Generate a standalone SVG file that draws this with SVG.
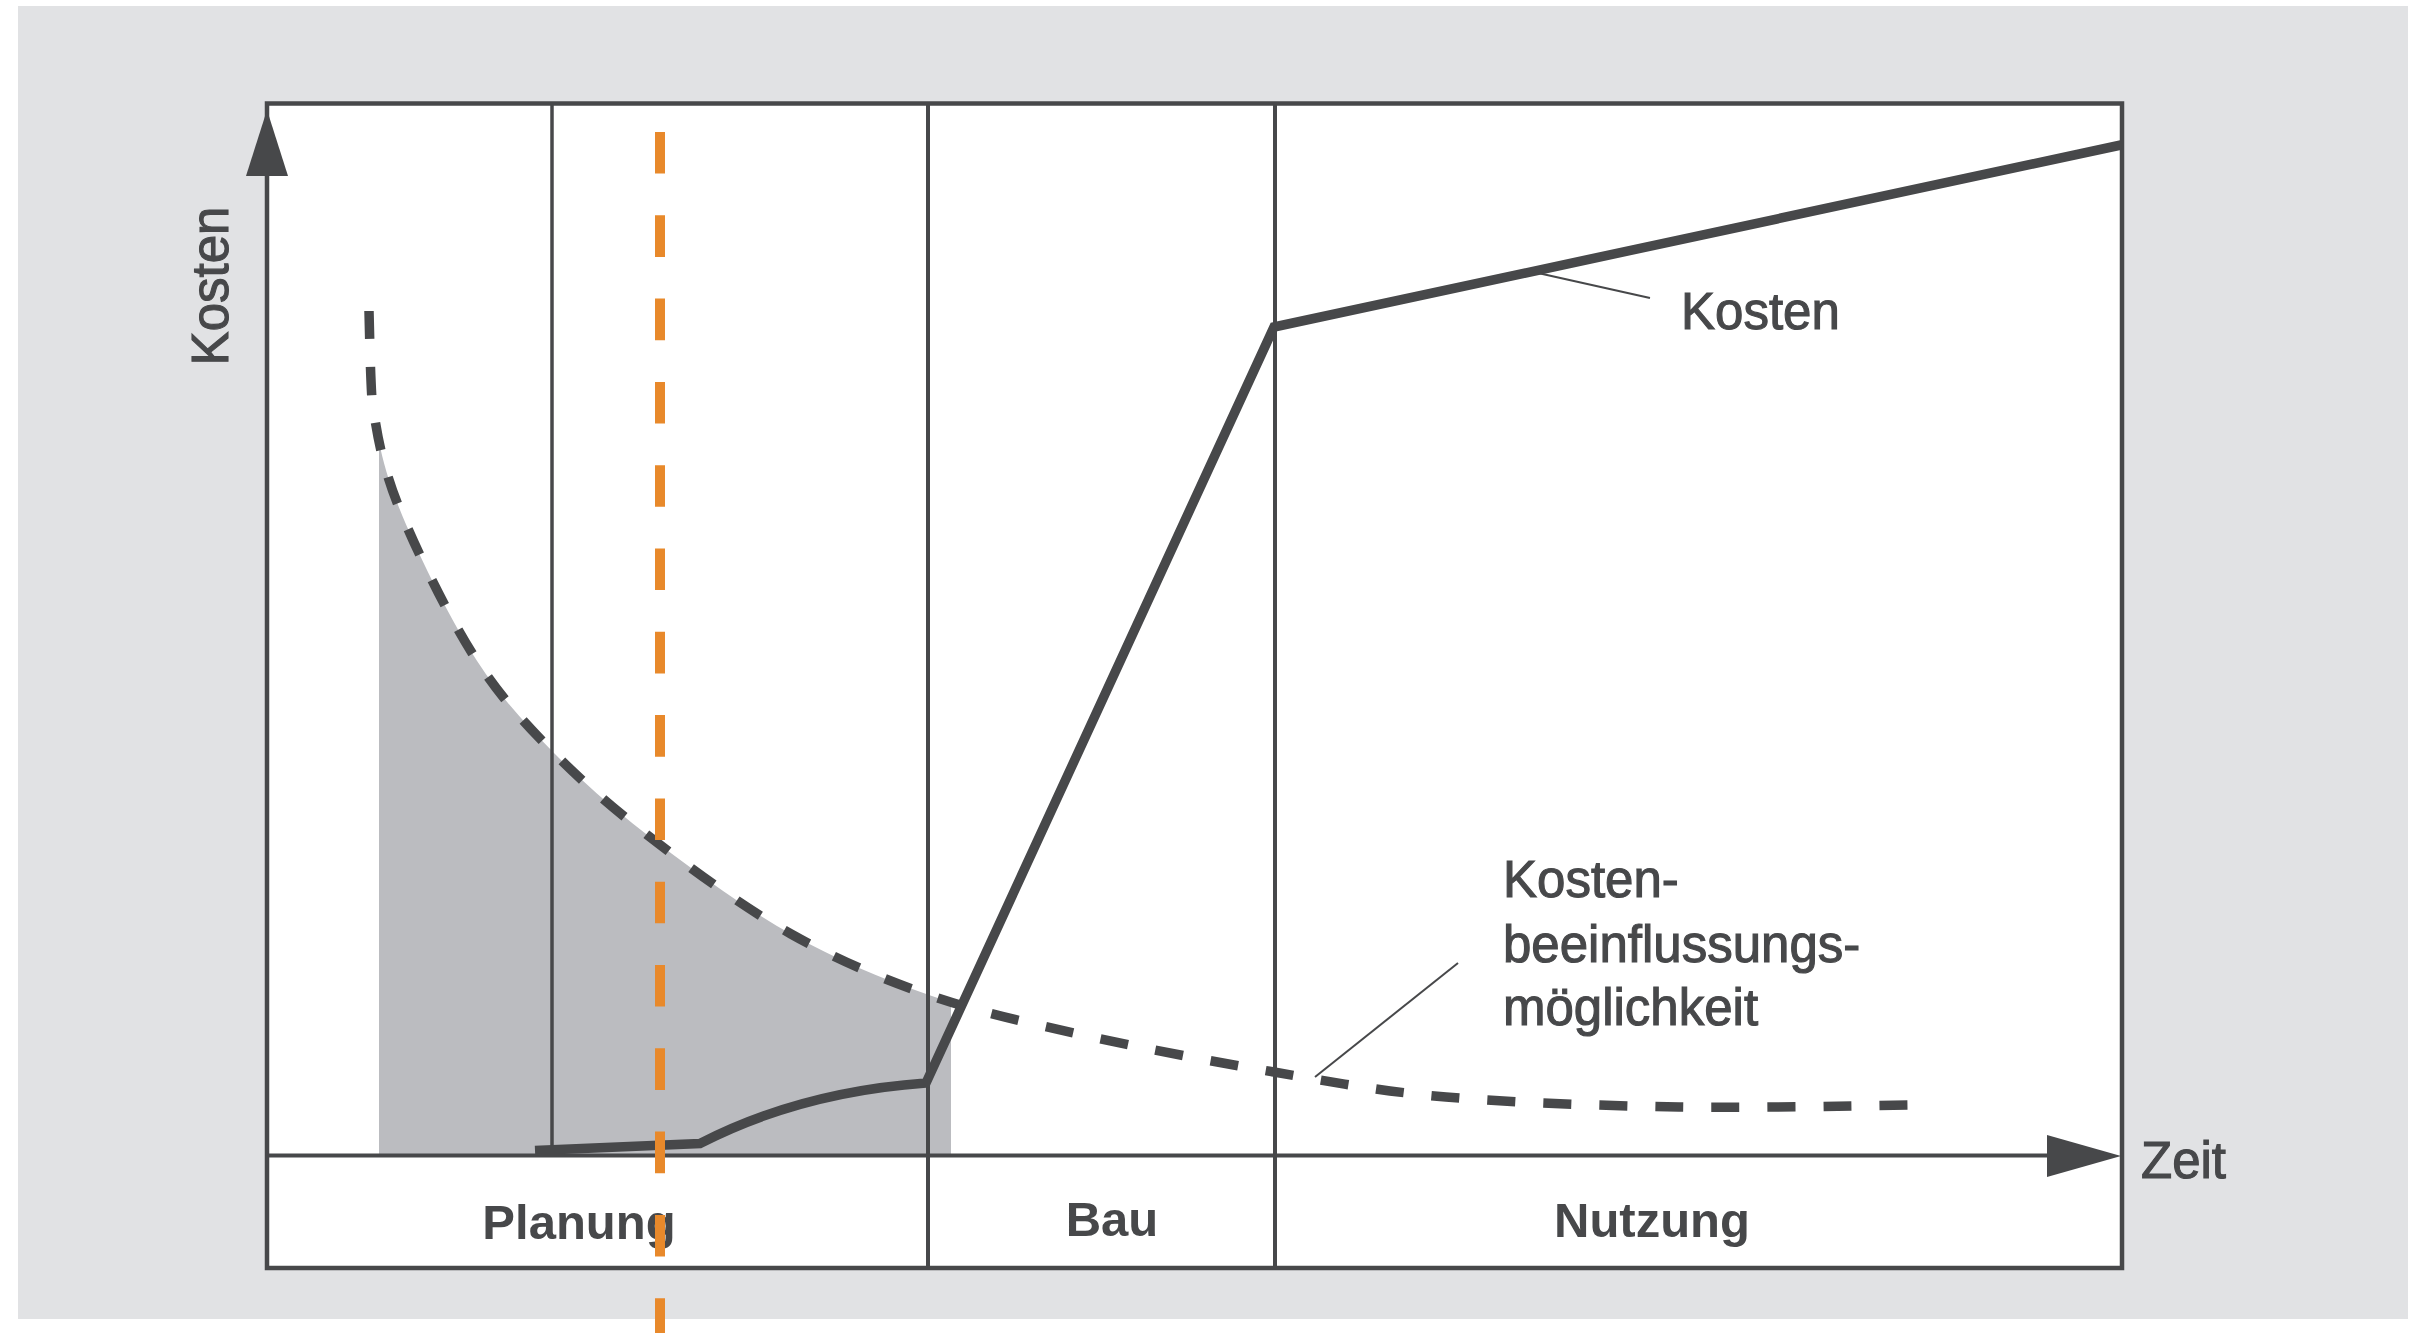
<svg xmlns="http://www.w3.org/2000/svg" width="2425" height="1333" viewBox="0 0 2425 1333">
<style>
.ln{stroke:#47484a;fill:none}
.lbl{font-family:"Liberation Sans",Arial,sans-serif;font-size:51px;fill:#47484a;stroke:#47484a;stroke-width:1.1px}
.ph{font-family:"Liberation Sans",Arial,sans-serif;font-size:49px;font-weight:bold;fill:#47484a;text-anchor:middle}
</style>
<defs>
<clipPath id="shadeClip"><rect x="379" y="300" width="572" height="855"/></clipPath>
</defs>
<rect x="0" y="0" width="2425" height="1333" fill="#ffffff"/>
<rect id="background" x="18" y="6" width="2390" height="1313" fill="#e1e2e4"/>
<rect id="frame-fill" x="267" y="103.5" width="1855" height="1164.5" fill="#ffffff"/>
<path id="shade" clip-path="url(#shadeClip)" fill="#bbbcc0" d="M369 311 C369.5 325.8 370 368 372 400 C376.8 432.3 381.3 462.8 398 505 C414.7 547.2 446.2 611.8 472 653 C497.8 694.2 521.8 720.2 553 752 C584.2 783.8 619.3 813.7 659 844 C698.7 874.3 746 908.8 791 934 C836 959.2 880.3 978.2 929 995 C977.7 1011.8 1025.5 1022.2 1083 1035 C1140.5 1047.8 1213.5 1061.7 1274 1072 L1274 1200 L369 1200 Z"/>
<g id="grid">
<line class="ln" x1="552" y1="103" x2="552" y2="1155" stroke-width="3.5"/>
<line class="ln" x1="928" y1="103" x2="928" y2="1268" stroke-width="4"/>
<line class="ln" x1="1275" y1="103" x2="1275" y2="1268" stroke-width="4"/>
</g>
<g id="axes">
<line class="ln" x1="267" y1="1155.5" x2="2055" y2="1155.5" stroke-width="4"/>
<polygon points="2121,1156 2047,1135 2047,1177" fill="#47484a"/>
<rect class="ln" x="267" y="103.5" width="1855" height="1164.5" stroke-width="4.5"/>
<polygon points="267,110 246,176 288,176" fill="#47484a"/>
</g>
<g id="connectors">
<path id="beeinflussung-curve" class="ln" stroke-width="9.5" stroke-dasharray="28 28" d="M369 311 C369.5 325.8 370 368 372 400 C376.8 432.3 381.3 462.8 398 505 C414.7 547.2 446.2 611.8 472 653 C497.8 694.2 521.8 720.2 553 752 C584.2 783.8 619.3 813.7 659 844 C698.7 874.3 746 908.8 791 934 C836 959.2 880.3 978.2 929 995 C977.7 1011.8 1025.5 1022.2 1083 1035 C1140.5 1047.8 1213.5 1061.7 1274 1072 C1334.5 1082.3 1378.5 1091.2 1446 1097 C1513.5 1102.8 1602 1105.7 1679 1107 C1756 1108.3 1878.2 1105.3 1918 1105"/>
<path id="kosten-curve" class="ln" stroke-width="9.5" stroke-linejoin="miter" d="M535 1150.5 L700 1143.5 Q800 1092 926 1083 L1274 327 L2121 145"/>
<line id="kosten-leader" class="ln" x1="1538" y1="273" x2="1650" y2="298" stroke-width="2"/>
<line id="beeinflussung-leader" class="ln" x1="1458" y1="963" x2="1315" y2="1077" stroke-width="2"/>
</g>
<g id="label-kosten-axis"><text class="lbl" transform="translate(228,286) rotate(-90)" text-anchor="middle">Kosten</text></g>
<g id="label-zeit"><text class="lbl" x="2141" y="1178">Zeit</text></g>
<g id="label-kosten"><text class="lbl" x="1681" y="329">Kosten</text></g>
<g id="label-beeinflussung">
<text class="lbl" x="1503" y="897">Kosten-</text>
<text class="lbl" x="1503" y="962">beeinflussungs-</text>
<text class="lbl" x="1503" y="1025">möglichkeit</text>
</g>
<g id="phase-planung"><text class="ph" x="579" y="1239">Planung</text></g>
<g id="phase-bau"><text class="ph" x="1112" y="1236">Bau</text></g>
<g id="phase-nutzung"><text class="ph" x="1652" y="1237">Nutzung</text></g>
<g id="marker-line">
<line x1="660" y1="132" x2="660" y2="1333" stroke="#e8892b" stroke-width="10" stroke-dasharray="41.6 41.7"/>
</g>
</svg>
